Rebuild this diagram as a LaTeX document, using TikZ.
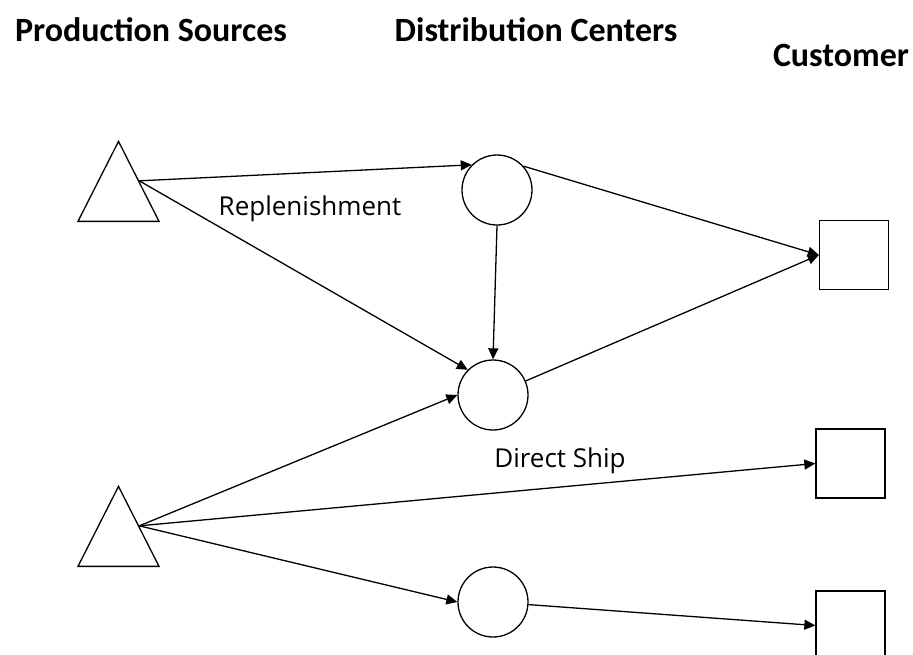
\documentclass[tikz,border=0pt]{standalone}
\usepackage{fontspec}
\setmainfont{Carlito}
\newfontfamily\lblfont{Open Sans}
\usetikzlibrary{arrows.meta,shapes.geometric}
\tikzset{
  src/.style={isosceles triangle, shape border rotate=90, isosceles triangle stretches,
    draw, line width=1.3pt, minimum width=81pt, minimum height=80pt, inner sep=0pt,
    anchor=lower side},
  dc/.style={circle, draw, line width=1.3pt, minimum size=70pt, inner sep=0pt},
  cust/.style={rectangle, draw, line width=1.3pt, minimum size=69pt, inner sep=0pt},
  hdr/.style={font=\fontsize{34}{36}\selectfont\bfseries},
  lbl/.style={font=\lblfont\fontsize{26}{28}\selectfont},
  flow/.style={line width=1.3pt, -{Triangle[length=11pt,width=10pt]}}
}

\begin{document}
\begin{tikzpicture}[x=1pt, y=-1pt]
  \useasboundingbox (0,0) rectangle (913,654);
  % Column headings
  \node[hdr] (hsrc) at (151,30) {Production Sources};
  \node[hdr] (hdc) at (536,30) {Distribution Centers};
  \node[hdr] (hcust) at (841,55) {Customer};
  % Production sources (placed by their base)
  \node[src] (p1) at (118.5,222) {};
  \node[src] (p2) at (118.5,567) {};
  % Distribution centers
  \node[dc] (d1) at (497,190) {};
  \node[dc] (d2) at (493,395) {};
  \node[dc] (d3) at (493,602) {};
  % Customers
  \node[cust] (c1) at (854,255) {};
  \node[cust] (c2) at (850.5,463.5) {};
  \node[cust] (c3) at (850.5,625.5) {};
  % Replenishment flows
  \draw[flow] (p1.right side) -- (d1.135);
  \draw[flow] (p1.right side) -- (d2.135);
  \draw[flow] (d1.south) -- (d2.north);
  \draw[flow] (d1.42) -- (c1.west);
  \draw[flow] (d2) -- (c1.west);
  \draw[flow] (p2.right side) -- (d2.west);
  \draw[flow] (p2.right side) -- (d3.west);
  \draw[flow] (d3) -- (c3.west);
  % Direct shipment
  \draw[flow] (p2.right side) -- (c2.west);
  \node[lbl] (lrep) at (310,209) {Replenishment};
  \node[lbl] (ldir) at (560,461) {Direct Ship};
\end{tikzpicture}
\end{document}
